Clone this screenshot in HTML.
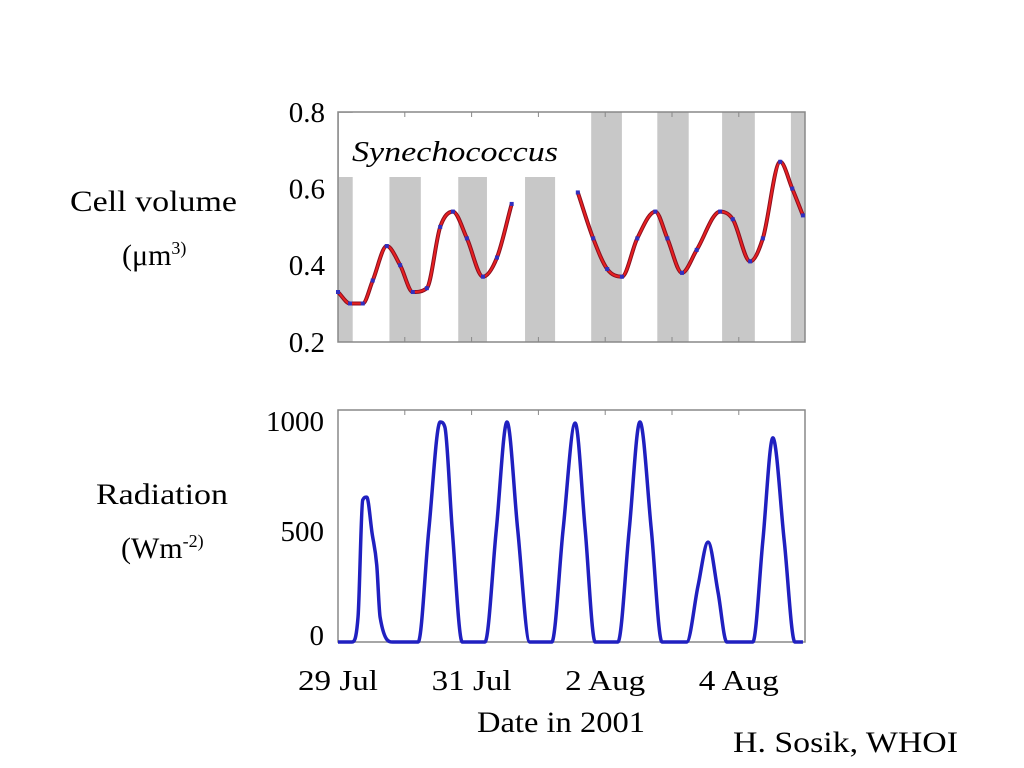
<!DOCTYPE html>
<html><head><meta charset="utf-8"><style>
body{margin:0;background:#fff;}
svg{display:block;}
svg text{font-family:"Liberation Serif","Times New Roman",serif;}
</style></head><body>
<svg width="1024" height="768">
<defs><clipPath id="clipTop"><rect x="338" y="112" width="467" height="230"/></clipPath></defs>
<g id="topPanel"></g>
<g id="botPanel"></g>
<g font-size="30" fill="#000">
<text x="70" y="211" textLength="167" lengthAdjust="spacingAndGlyphs">Cell volume</text>
<text x="122" y="265">(μm<tspan font-size="18" dy="-11">3)</tspan></text>
<text x="96" y="504" textLength="132" lengthAdjust="spacingAndGlyphs">Radiation</text>
<text x="121" y="558">(Wm<tspan font-size="18" dy="-11">-2)</tspan></text>
<text x="477" y="732" textLength="168" lengthAdjust="spacingAndGlyphs">Date in 2001</text>
<text x="733" y="752" textLength="225" lengthAdjust="spacingAndGlyphs">H. Sosik, WHOI</text>
</g>
</svg>
<script>
const NS="http://www.w3.org/2000/svg";
const nightStart=[-0.23,0.77,1.80,2.80,3.79,4.78,5.75,6.78];
const nightEnd=[0.22,1.24,2.23,3.25,4.25,5.25,6.24,7.25];
const volSeg1T=[0,0.18,0.37,0.52,0.73,0.93,1.12,1.33,1.53,1.72,1.93,2.17,2.38,2.60];
const volSeg1V=[0.33,0.30,0.30,0.36,0.45,0.40,0.33,0.34,0.50,0.54,0.47,0.37,0.42,0.56];
const volSeg2T=[3.59,3.82,4.03,4.25,4.48,4.75,4.93,5.15,5.37,5.72,5.91,6.17,6.36,6.62,6.80,6.96];
const volSeg2V=[0.59,0.47,0.39,0.37,0.47,0.54,0.47,0.38,0.44,0.54,0.52,0.41,0.47,0.67,0.60,0.53];
const volTicks=[0.8,0.6,0.4,0.2];
const radT=[0,0.21,0.30,0.37,0.43,0.51,0.58,0.63,0.82,1.20,1.36,1.53,1.60,1.71,1.86,2.20,2.37,2.53,2.69,2.87,3.20,3.37,3.55,3.70,3.85,4.19,4.36,4.52,4.69,4.85,5.22,5.39,5.54,5.69,5.82,6.21,6.36,6.51,6.68,6.84,6.96];
const radV=[0,0,111,631,644,484,342,111,0,0,500,978,955,500,0,0,500,978,500,0,0,500,973,500,0,0,500,978,500,0,0,250,444,220,0,0,450,907,450,0,0];
const radTicks=[1000,500,0];
const dateLabels=["29 Jul","31 Jul","2 Aug","4 Aug"];
const dateT=[0,2,4,6];

const X=t=>338+t*66.8;
const Yv=v=>112+(0.8-v)*383;
const Yr=v=>642-v*0.225;
function mk(tag,attrs,parent){const e=document.createElementNS(NS,tag);for(const k in attrs)e.setAttribute(k,attrs[k]);parent.appendChild(e);return e;}
// monotone cubic (no overshoot)
function smooth(p){const n=p.length,d=[],m=[];
for(let i=0;i<n-1;i++)d.push((p[i+1][1]-p[i][1])/(p[i+1][0]-p[i][0]));
m[0]=d[0];m[n-1]=d[n-2];
for(let i=1;i<n-1;i++)m[i]=(d[i-1]*d[i]<=0)?0:(d[i-1]+d[i])/2;
for(let i=0;i<n-1;i++){if(d[i]===0){m[i]=0;m[i+1]=0;continue;}const a=m[i]/d[i],b=m[i+1]/d[i],s=a*a+b*b;if(s>9){const t=3/Math.sqrt(s);m[i]=t*a*d[i];m[i+1]=t*b*d[i];}}
let s="M"+p[0][0]+","+p[0][1];
for(let i=0;i<n-1;i++){const h=(p[i+1][0]-p[i][0])/3;s+=" C"+(p[i][0]+h)+","+(p[i][1]+m[i]*h)+" "+(p[i+1][0]-h)+","+(p[i+1][1]-m[i+1]*h)+" "+p[i+1][0]+","+p[i+1][1];}
return s;}

const tp=document.getElementById('topPanel');
const bands=mk('g',{'clip-path':'url(#clipTop)'},tp);
for(let i=0;i<nightStart.length;i++){
  const yTop=(X(nightStart[i])<560&&X(nightStart[i])>345)?177:112;
  const r=mk('rect',{x:X(nightStart[i]),y:yTop,width:X(nightEnd[i])-X(nightStart[i]),height:342-yTop,fill:'#c8c8c8'},bands);
  
  
}
const lab=mk('rect',{x:339,y:113,width:216,height:64,fill:'#fff'},tp);
const box1=mk('rect',{x:338,y:112,width:467,height:230,fill:'none',stroke:'#888','stroke-width':1.5},tp);


for(let t=1;t<7;t++){mk('line',{x1:X(t),x2:X(t),y1:112,y2:117,stroke:'#888'},tp);mk('line',{x1:X(t),x2:X(t),y1:342,y2:337,stroke:'#888'},tp);}
volTicks.forEach(v=>{const tx=mk('text',{x:325,y:Yv(v)+10,'text-anchor':'end','font-size':29},tp);tx.textContent=v.toFixed(1);

});
const syn=mk('text',{x:352,y:161,'font-size':28,'font-style':'italic',textLength:206,lengthAdjust:'spacingAndGlyphs'},tp);syn.textContent="Synechococcus";


[[volSeg1T,volSeg1V],[volSeg2T,volSeg2V]].forEach(([T,V])=>{
  const pts=T.map((t,i)=>[X(t),Yv(V[i])]);
  const p=mk('path',{d:smooth(pts),fill:'none',stroke:'#8a1020','stroke-width':4},tp);
  
  
  const p2=mk('path',{d:smooth(pts),fill:'none',stroke:'#e82020','stroke-width':2},tp);
  pts.forEach(q=>{const c=mk('rect',{x:q[0]-2,y:q[1]-2,width:4,height:4,fill:'#3030c0'},tp);
  
  });
});

const bp=document.getElementById('botPanel');
const box2=mk('rect',{x:338,y:410,width:467,height:232,fill:'none',stroke:'#888','stroke-width':1.5},bp);


for(let t=1;t<7;t++){mk('line',{x1:X(t),x2:X(t),y1:410,y2:415,stroke:'#888'},bp);}
const radLabelY={1000:431,500:541,0:645};
radTicks.forEach(v=>{const tx=mk('text',{x:324,y:radLabelY[v],'text-anchor':'end','font-size':29},bp);tx.textContent=v;

});
const rp=mk('path',{d:smooth(radT.map((t,i)=>[X(t),Yr(radV[i])])),fill:'none',stroke:'#2020c0','stroke-width':3.5,'stroke-linejoin':'round'},bp);


dateLabels.forEach((s,i)=>{const tx=mk('text',{x:X(dateT[i]),y:690,'text-anchor':'middle','font-size':29,textLength:80,lengthAdjust:'spacingAndGlyphs'},bp);tx.textContent=s;

});
</script>
</body></html>
